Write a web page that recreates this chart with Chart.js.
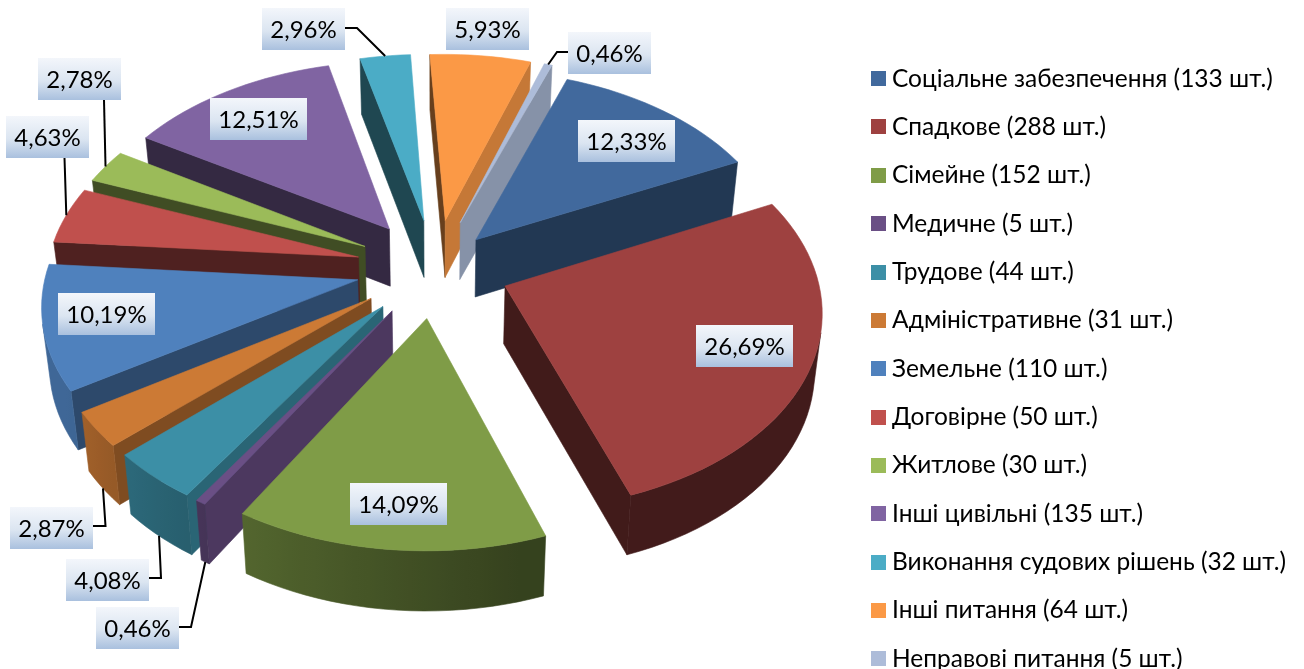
<!DOCTYPE html>
<html>
<head>
<meta charset="utf-8">
<title>Pie</title>
<script src="https://cdn.jsdelivr.net/npm/chart.js@4"></script>
<style>
    html, body { margin: 0; padding: 0; background: #fff; overflow: hidden; }
    #wrap { width: 1304px; height: 669px; }
</style>
</head>
<body>
<div id="wrap"><canvas id="pieChart" width="1304" height="669"></canvas></div>
<script>
const categories = ['Соціальне забезпечення', 'Спадкове', 'Сімейне', 'Медичне', 'Трудове', 'Адміністративне',
    'Земельне', 'Договірне', 'Житлове', 'Інші цивільні', 'Виконання судових рішень', 'Інші питання', 'Неправові питання'];
const counts = [133, 288, 152, 5, 44, 31, 110, 50, 30, 135, 32, 64, 5];
const shareLabels = ['12,33%', '26,69%', '14,09%', '0,46%', '4,08%', '2,87%', '10,19%', '4,63%', '2,78%', '12,51%', '2,96%', '5,93%', '0,46%'];
const sliceColors = ['#41699d', '#9e4140', '#7f9c47', '#6a4f85', '#3c8fa6', '#cc7a35', '#4f81bd', '#c0504d', '#9bbb59', '#8064a2', '#4bacc6', '#fb9946', '#adbcd9'];
const sliceOffsets = [62, 75, 79, 79, 79, 79, 79, 79, 79, 79, 79, 79, 79];

// label boxes: left, top, width (all 42 high)
const labelBoxes = [[578, 120, 97], [696, 325, 97], [350, 483, 97], [96, 607, 83], [66, 559, 83], [10, 507, 83],
    [58, 293, 97], [6, 116, 83], [38, 58, 83], [210, 98, 97], [262, 8, 83], [446, 8, 83], [568, 32, 83]];
// leader elbows from the box to the rim of the slice
const leaderElbows = {
    3: [[179, 627], [191, 627]],
    4: [[149, 578], [161, 578]],
    5: [[93, 526], [105.5, 526]],
    7: [[64.5, 158]],
    8: [[104, 100]],
    10: [[345, 28], [357, 28]],
    12: [[568, 52], [557, 52]]
};

// fake 3d view of the pie
const view = { cx: 435, cy: 268, squash: 0.625, persp: 0.111, wall: 57.5, wallGrow: 0.0095, wallShrink: 0.98 };

function project(gx, gy, R) {
    const w = 1 - view.persp * gy;
    return { x: view.cx + R * gx / w, y: view.cy + R * view.squash * gy / w };
}

function lower(p) {
    return {
        x: view.cx + (p.x - view.cx) * view.wallShrink,
        y: p.y + view.wall + view.wallGrow * (p.y - view.cy)
    };
}

function shade(hex, f) {
    const n = parseInt(hex.slice(1), 16);
    const c = [n >> 16, (n >> 8) & 255, n & 255].map(v => Math.round(v * f));
    return `rgb(${c[0]},${c[1]},${c[2]})`;
}

// degrees clockwise from 12 o'clock
function clockDeg(a) {
    return ((a + Math.PI / 2) * 180 / Math.PI % 360 + 360) % 360;
}

function rimShade(a) {
    const d = clockDeg(a);
    if (d < 165) return 0.42;
    if (d > 240) return 0.8;
    return 0.42 + (d - 165) / 75 * 0.38;
}

function sideShade(n) {
    const d = clockDeg(n);
    if (d > 100 && d < 160) return 0.78 - (d - 109) * 0.0055;
    return 0.41;
}

function slicePoints(arc) {
    const R = arc.outerRadius;
    const mid = (arc.startAngle + arc.endAngle) / 2;
    const e = arc.options.offset / R;
    const ax = e * Math.cos(mid), ay = e * Math.sin(mid);
    const rim = [];
    const steps = Math.max(2, Math.ceil((arc.endAngle - arc.startAngle) / 0.04));
    for (let s = 0; s <= steps; s++) {
        const a = arc.startAngle + (arc.endAngle - arc.startAngle) * s / steps;
        rim.push({ a, p: project(ax + Math.cos(a), ay + Math.sin(a), R) });
    }
    return { apex: project(ax, ay, R), rim, midRim: project(ax + Math.cos(mid), ay + Math.sin(mid), R), mid, depth: ay };
}

function fillPoly(ctx, pts, color) {
    ctx.beginPath();
    pts.forEach((p, i) => i ? ctx.lineTo(p.x, p.y) : ctx.moveTo(p.x, p.y));
    ctx.closePath();
    ctx.fillStyle = color;
    ctx.strokeStyle = color;
    ctx.lineWidth = 0.6;
    ctx.fill();
    ctx.stroke();
}

function wallVisible(p, q) {
    const quad = [p, q, lower(q), lower(p)];
    let area = 0;
    quad.forEach((u, i) => {
        const v = quad[(i + 1) % 4];
        area += u.x * v.y - v.x * u.y;
    });
    return area < 0;
}

function drawWall(ctx, p, q, color) {
    if (wallVisible(p, q)) fillPoly(ctx, [p, q, lower(q), lower(p)], color);
}

// the visible part of the round side as one shape, shaded left to right
function drawRimWall(ctx, rim, color) {
    const run = [];
    for (let k = 0; k < rim.length - 1; k++) {
        if (wallVisible(rim[k].p, rim[k + 1].p)) {
            if (!run.length) run.push(rim[k]);
            run.push(rim[k + 1]);
        }
    }
    if (run.length < 2) return;
    const x0 = run[0].p.x, x1 = run[run.length - 1].p.x;
    const grad = ctx.createLinearGradient(x0, 0, x1, 0);
    run.forEach(r => {
        const t = Math.min(1, Math.max(0, (r.p.x - x0) / ((x1 - x0) || 1)));
        grad.addColorStop(t, shade(color, rimShade(r.a)));
    });
    const pts = run.map(r => r.p).concat(run.map(r => lower(r.p)).reverse());
    fillPoly(ctx, pts, grad);
}

const pie3d = {
    id: 'pie3d',
    beforeDatasetDraw(chart, args) {
        const ctx = chart.ctx;
        const arcs = args.meta.data;
        const order = arcs.map((arc, i) => ({ i, s: slicePoints(arc) })).sort((a, b) => a.s.depth - b.s.depth);
        ctx.save();
        ctx.lineJoin = 'round';
        order.forEach(({ i, s }) => {
            const color = sliceColors[i];
            const arc = arcs[i];
            const rim = s.rim;
            drawWall(ctx, s.apex, rim[0].p, shade(color, sideShade(arc.startAngle - Math.PI / 2)));
            drawWall(ctx, rim[rim.length - 1].p, s.apex, shade(color, sideShade(arc.endAngle + Math.PI / 2)));
            drawRimWall(ctx, rim, color);
            fillPoly(ctx, [s.apex, ...rim.map(r => r.p)], color);
        });
        ctx.restore();
        return false;
    },
    afterDraw(chart) {
        const ctx = chart.ctx;
        const arcs = chart.getDatasetMeta(0).data;
        ctx.save();
        ctx.strokeStyle = '#000';
        ctx.lineWidth = 2;
        Object.keys(leaderElbows).forEach(key => {
            const s = slicePoints(arcs[key]);
            const end = Math.sin(s.mid) > 0 ? lower(s.midRim) : s.midRim;
            ctx.beginPath();
            leaderElbows[key].forEach((p, i) => i ? ctx.lineTo(p[0], p[1]) : ctx.moveTo(p[0], p[1]));
            ctx.lineTo(end.x, end.y);
            ctx.stroke();
        });
        ctx.font = '24px Lato, "Open Sans", sans-serif';
        ctx.textAlign = 'center';
        ctx.textBaseline = 'middle';
        shareLabels.forEach((text, i) => {
            const [left, top, width] = labelBoxes[i];
            const grad = ctx.createLinearGradient(0, top, 0, top + 42);
            grad.addColorStop(0, '#f3f6fb');
            grad.addColorStop(0.55, '#dbe5f1');
            grad.addColorStop(1, '#a9c0de');
            ctx.fillStyle = grad;
            ctx.fillRect(left, top, width, 42);
            ctx.fillStyle = '#000';
            ctx.fillText(text, left + width / 2, top + 22);
        });
        ctx.restore();
    },
    afterLayout(chart) {
        // legend sits lower than the library would put it
        const legend = chart.legend;
        const dx = 877.25 - 23.85 - legend.left;
        legend.left += dx;
        legend.right += dx;
        legend.top += 42.5;
        legend.bottom += 42.5;
    }
};

function swatch(color) {
    const c = document.createElement('canvas');
    c.width = 15;
    c.height = 15;
    const g = c.getContext('2d');
    g.fillStyle = color;
    g.fillRect(0, 0, 15, 15);
    return c;
}

new Chart(document.getElementById('pieChart'), {
    type: 'pie',
    data: {
        labels: categories,
        datasets: [{
            data: counts,
            backgroundColor: sliceColors,
            borderWidth: 0,
            offset: sliceOffsets
        }]
    },
    options: {
        responsive: false,
        animation: false,
        rotation: 20,
        radius: 311,
        plugins: {
            tooltip: { enabled: false },
            legend: {
                position: 'right',
                align: 'start',
                labels: {
                    color: '#000',
                    font: { family: 'Lato, "Open Sans", sans-serif', size: 24.5 },
                    padding: 23.85,
                    usePointStyle: true,
                    pointStyleWidth: 2.5,
                    boxHeight: 15,
                    generateLabels(chart) {
                        return categories.map((name, i) => ({
                            text: `${name} (${counts[i]} шт.)`,
                            fillStyle: sliceColors[i],
                            strokeStyle: sliceColors[i],
                            lineWidth: 0,
                            pointStyle: swatch(sliceColors[i]),
                            hidden: false,
                            index: i
                        }));
                    }
                }
            }
        }
    },
    plugins: [pie3d]
});
</script>
</body>
</html>
